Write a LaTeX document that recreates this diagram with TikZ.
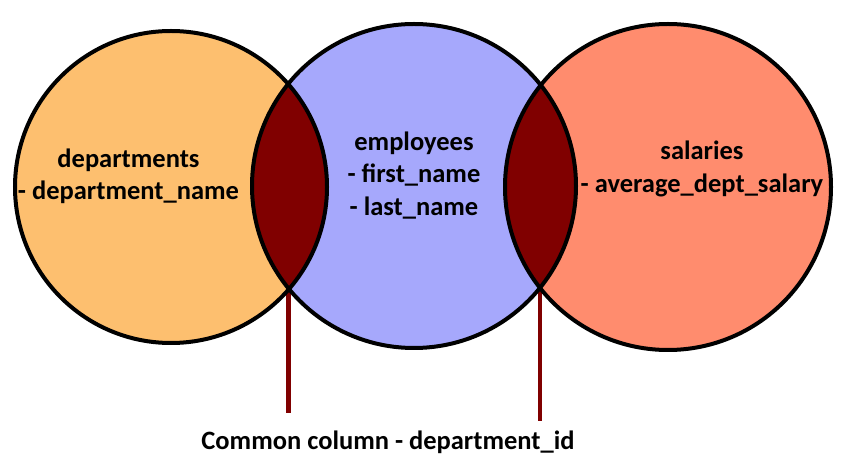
\documentclass[tikz,border=0pt]{standalone}
\usepackage{fontspec}
\setmainfont{Carlito}
\begin{document}
\begin{tikzpicture}[x=1pt,y=1pt]
\definecolor{deptfill}{RGB}{253,191,111}
\definecolor{empfill}{RGB}{166,168,252}
\definecolor{salfill}{RGB}{255,140,110}
\definecolor{joinred}{RGB}{128,0,0}
\tikzset{
  ring/.style={draw=black, line width=4pt},
  lbl/.style={font=\bfseries\fontsize{26.5}{32.5}\selectfont, align=center, inner sep=0pt},
  joinline/.style={draw=joinred, line width=4.5pt}
}
\useasboundingbox (0,0) rectangle (841,474);
\coordinate (cL) at (171,287);
\coordinate (cM) at (414,288);
\coordinate (cR) at (668,287);
% fills
\fill[deptfill] (cL) circle (156);
\fill[empfill] (cM) circle (162);
\fill[salfill] (cR) circle (163);
% lenses
\begin{scope}
  \clip (cL) circle (156);
  \fill[joinred] (cM) circle (162);
\end{scope}
\begin{scope}
  \clip (cM) circle (162);
  \fill[joinred] (cR) circle (163);
\end{scope}
% connector lines
\coordinate (lb1) at (288.6,195);
\coordinate (lb2) at (540,195);
\coordinate (le1) at (288.6,61);
\coordinate (le2) at (540,53);
\draw[joinline] (lb1) -- (le1);
\draw[joinline] (lb2) -- (le2);
% outlines
\draw[ring] (cL) circle (156);
\draw[ring] (cM) circle (162);
\draw[ring] (cR) circle (163);
% labels
\node[lbl] (dept) at (128.5,297.5) {departments\\- department\_name};
\node[lbl] (emp) at (414,298.5) {employees\\- first\_name\\- last\_name};
\node[lbl] (sal) at (702,305) {salaries\\- average\_dept\_salary};
\node[lbl] (common) at (388,32) {Common column - department\_id};
\end{tikzpicture}
\end{document}
